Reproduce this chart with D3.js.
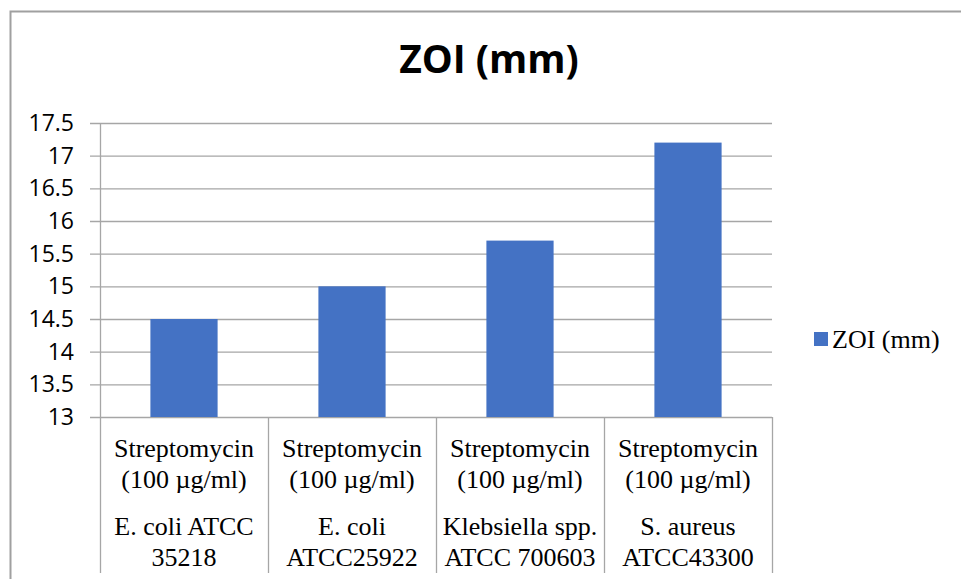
<!DOCTYPE html>
<html>
<head>
<meta charset="utf-8">
<script src="https://cdn.jsdelivr.net/npm/d3@7"></script>
<style>
  body { margin: 0; background: #fff; }
  svg { display: block; }
</style>
</head>
<body>
<div id="chart"></div>
<script>
// Chart data
const categories = ["E. coli ATCC 35218", "E. coli ATCC25922", "Klebsiella spp. ATCC 700603", "S. aureus ATCC43300"];
const strainLines = [["E. coli ATCC", "35218"], ["E. coli", "ATCC25922"], ["Klebsiella spp.", "ATCC 700603"], ["S. aureus", "ATCC43300"]];
const treatmentLines = ["Streptomycin", "(100 µg/ml)"];
const zoi = [14.5, 15, 15.7, 17.2];
const yTicks = [13, 13.5, 14, 14.5, 15, 15.5, 16, 16.5, 17, 17.5];
const seriesName = "ZOI (mm)";

// Dimensions
const W = 961, H = 579;
const plot = { left: 100, right: 772, top: 123, bottom: 417 };
const gridColor = "#a6a6a6";
const barColor = "#4472c4";
const serifFont = "Liberation Serif";
const sansFont = "Open Sans";

const svg = d3.select("#chart")
  .append("svg")
  .attr("width", W)
  .attr("height", H);

// Outer chart border (only left and top visible)
svg.append("path")
  .attr("d", `M10.5,${H} V11.5 H${W}`)
  .attr("fill", "none")
  .attr("stroke", "#a0a0a0")
  .attr("stroke-width", 2);

// Title
svg.append("text")
  .attr("x", 489)
  .attr("y", 73)
  .attr("text-anchor", "middle")
  .style("font-family", sansFont)
  .style("font-weight", "bold")
  .style("font-size", "39px")
  .attr("fill", "#000")
  .text(seriesName);

// Scales
const x = d3.scaleBand()
  .domain(categories)
  .range([plot.left, plot.right])
  .paddingInner(0.6)
  .paddingOuter(0.3);

const y = d3.scaleLinear()
  .domain([13, 17.5])
  .range([plot.bottom, plot.top]);

// Y axis with gridlines
const yAxis = svg.append("g")
  .attr("transform", `translate(${plot.right},0)`)
  .call(d3.axisLeft(y)
    .tickValues(yTicks)
    .tickSize(plot.right - plot.left + 10)
    .tickPadding(16)
    .tickFormat(d3.format("")));

yAxis.select(".domain").remove();
yAxis.selectAll(".tick line")
  .attr("stroke", gridColor)
  .attr("stroke-width", 1.3);
yAxis.selectAll(".tick text")
  .style("font-family", sansFont)
  .style("font-size", "23px")
  .attr("fill", "#000");

// Bars
svg.selectAll(".bar")
  .data(zoi)
  .enter()
  .append("rect")
  .attr("class", "bar")
  .attr("x", (d, i) => x(categories[i]))
  .attr("y", d => y(d))
  .attr("width", x.bandwidth())
  .attr("height", d => y(13) - y(d))
  .attr("fill", barColor);

// Category separators (multi-level axis)
const axisBottom = 573;
const edges = categories.map(c => x(c) - x.step() * x.paddingOuter())
  .concat([plot.right]);

svg.selectAll(".sep")
  .data(edges)
  .enter()
  .append("line")
  .attr("class", "sep")
  .attr("x1", d => Math.round(d) + 0.5)
  .attr("x2", d => Math.round(d) + 0.5)
  .attr("y1", (d, i) => i === 0 ? plot.top : plot.bottom)
  .attr("y2", axisBottom)
  .attr("stroke", gridColor)
  .attr("stroke-width", 1.3);

// Category labels
const labels = svg.selectAll(".cat")
  .data(categories)
  .enter()
  .append("g")
  .attr("class", "cat")
  .attr("transform", d => `translate(${x(d) + x.bandwidth() / 2},0)`);

labels.each(function(d, i) {
  const g = d3.select(this);
  const lines = treatmentLines.concat(strainLines[i]);
  const baselines = [457, 488, 535, 566];
  lines.forEach((t, j) => {
    g.append("text")
      .attr("y", baselines[j])
      .attr("text-anchor", "middle")
      .style("font-family", serifFont)
      .style("font-size", "26px")
      .attr("fill", "#000")
      .text(t);
  });
});

// Legend
svg.append("rect")
  .attr("x", 814)
  .attr("y", 332)
  .attr("width", 14)
  .attr("height", 14)
  .attr("fill", barColor);

svg.append("text")
  .attr("x", 832)
  .attr("y", 348)
  .style("font-family", serifFont)
  .style("font-size", "26px")
  .attr("fill", "#000")
  .text(seriesName);
</script>
</body>
</html>
